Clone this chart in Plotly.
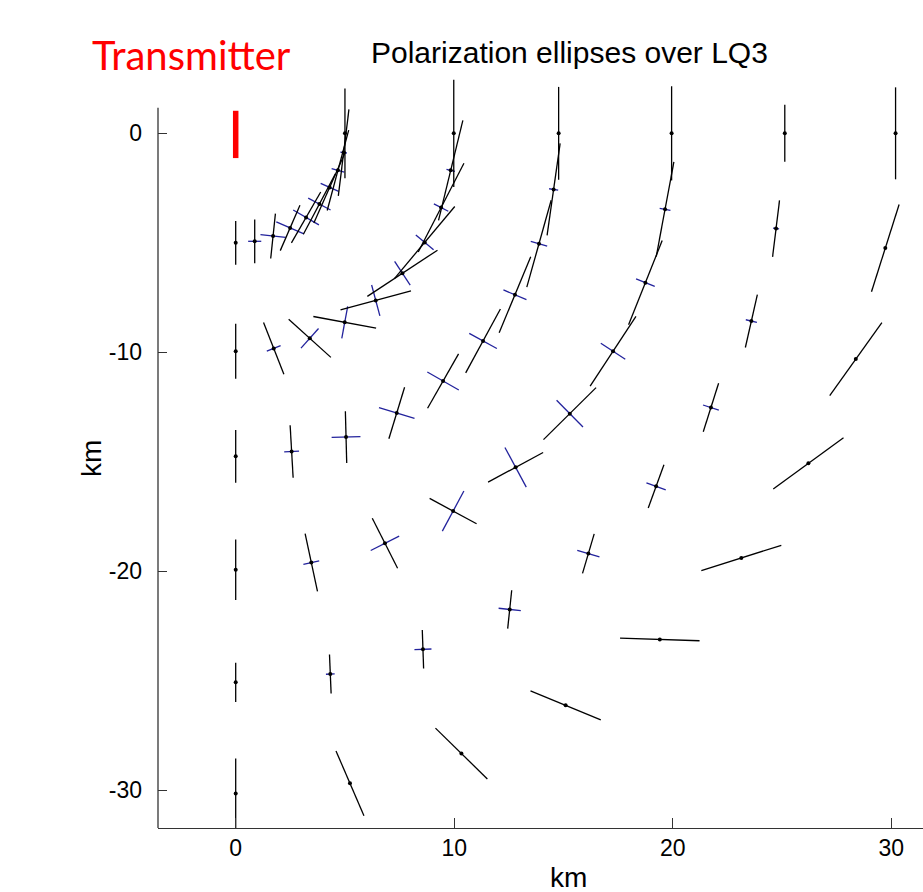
import math
import plotly.graph_objects as go

# ---------------- data (km / degrees) ----------------
# station centres, one list per ring (bearings 0..90 deg, step 10, from due south)
x_r5  = [0.00, 0.87, 1.71, 2.49, 3.22, 3.83, 4.30, 4.68, 4.94, 5.00]
y_r5  = [-5.00, -4.93, -4.69, -4.32, -3.84, -3.23, -2.47, -1.69, -0.88, 0.00]
x_r10 = [0.00, 1.74, 3.39, 4.99, 6.41, 7.63, 8.65, 9.40, 9.84, 9.98]
y_r10 = [-9.95, -9.82, -9.36, -8.63, -7.63, -6.39, -4.98, -3.39, -1.69, 0.00]
x_r15 = [0.00, 2.56, 5.05, 7.37, 9.49, 11.32, 12.78, 13.88, 14.55, 14.78]
y_r15 = [-14.75, -14.53, -13.87, -12.77, -11.31, -9.48, -7.37, -5.04, -2.56, 0.00]
x_r20 = [0.00, 3.46, 6.83, 9.95, 12.81, 15.29, 17.27, 18.75, 19.65, 19.95]
y_r20 = [-19.93, -19.60, -18.72, -17.25, -15.25, -12.80, -9.95, -6.82, -3.47, 0.00]
x_r25 = [0.00, 4.33, 8.57, 12.54, 16.14, 19.24, 21.75, 23.60, 24.73, 25.13]
y_r25 = [-25.07, -24.69, -23.56, -21.74, -19.19, -16.12, -12.52, -8.57, -4.35, 0.00]
x_r30 = [0.00, 5.23, 10.33, 15.10, 19.41, 23.14, 26.21, 28.38, 29.73, 30.20]
y_r30 = [-30.15, -29.68, -28.32, -26.12, -23.11, -19.39, -15.07, -10.31, -5.24, 0.00]

# ellipse major half-axis (km), major-axis orientation (deg from east), minor half-axis (km)
major_r5  = [1.00, 1.00, 1.03, 1.13, 1.34, 1.56, 1.78, 1.90, 1.99, 2.05]
angle_r5  = [90, 90, 84, 66.5, 60, 62, 66, 75, 83, 90]
minor_r5  = [0.00, 0.30, 0.58, 0.69, 0.68, 0.58, 0.45, 0.30, 0.15, 0.00]

major_r10 = [1.26, 1.27, 1.30, 1.46, 1.67, 1.92, 2.14, 2.28, 2.35, 2.45]
angle_r10 = [90, 111.5, 138, 169.5, 15, 33.3, 50, 62.7, 76.3, 90]
minor_r10 = [0.00, 0.34, 0.60, 0.74, 0.73, 0.65, 0.53, 0.37, 0.20, 0.00]

major_r15 = [1.20, 1.20, 1.18, 1.23, 1.43, 1.66, 1.88, 2.06, 2.12, 2.12]
angle_r15 = [90, 93.3, 91.5, 73, 60.3, 61.4, 67.4, 74.3, 81.9, 90]
minor_r15 = [0.00, 0.34, 0.66, 0.85, 0.83, 0.72, 0.57, 0.39, 0.21, 0.00]

major_r20 = [1.38, 1.35, 1.28, 1.22, 1.43, 1.69, 1.91, 2.07, 2.20, 2.15]
angle_r20 = [90, 102.1, 116.9, 151.7, 28.3, 44.6, 56.7, 68.2, 79.4, 90]
minor_r20 = [0.00, 0.37, 0.73, 1.04, 1.03, 0.86, 0.67, 0.46, 0.25, 0.00]

major_r25 = [0.90, 0.89, 0.88, 0.88, 0.94, 1.05, 1.16, 1.24, 1.30, 1.30]
angle_r25 = [90, 92.4, 92, 84, 73.5, 70, 72.4, 77.2, 83, 90]
minor_r25 = [0.00, 0.20, 0.39, 0.51, 0.53, 0.47, 0.38, 0.26, 0.14, 0.00]

major_r30 = [1.60, 1.61, 1.66, 1.74, 1.82, 1.92, 1.99, 2.05, 2.09, 2.10]
angle_r30 = [90, 113.4, 135.7, 157.6, 178.1, 17.6, 36.1, 54.4, 72.4, 90]
minor_r30 = [0.00, 0.00, 0.00, 0.00, 0.00, 0.00, 0.00, 0.00, 0.00, 0.00]

# transmitter (red bar) position, km
transmitter_x = [0.0, 0.0]
transmitter_y = [1.03, -1.13]

x_ticks = [0, 10, 20, 30]
x_ticktext = ["0", "10", "20", "30"]
y_ticks = [0, -10, -20, -30]
y_ticktext = ["0", "-10", "-20", "-30"]

title_text = "Polarization ellipses over LQ3"
transmitter_label = "Transmitter"
axis_label = "km"

# ---------------- assemble ----------------
xs = x_r5 + x_r10 + x_r15 + x_r20 + x_r25 + x_r30
ys = y_r5 + y_r10 + y_r15 + y_r20 + y_r25 + y_r30
majors = major_r5 + major_r10 + major_r15 + major_r20 + major_r25 + major_r30
angles = angle_r5 + angle_r10 + angle_r15 + angle_r20 + angle_r25 + angle_r30
minors = minor_r5 + minor_r10 + minor_r15 + minor_r20 + minor_r25 + minor_r30

maj_x, maj_y, min_x, min_y = [], [], [], []
for x, y, a, ang, b in zip(xs, ys, majors, angles, minors):
    t = math.radians(ang)
    c, s = math.cos(t), math.sin(t)
    maj_x += [x - a * c, x + a * c, None]
    maj_y += [y - a * s, y + a * s, None]
    if b > 0:
        min_x += [x + b * s, x - b * s, None]
        min_y += [y - b * c, y + b * c, None]

W, H = 923, 892
ML, MR, MT, MB = 158, 0, 75, 64
PX_PER_KM_X = 21.85
PX_PER_KM_Y = 21.9
x_min = -3.556
x_max = x_min + (W - ML - MR) / PX_PER_KM_X
y_min = -31.72
y_max = y_min + (H - MT - MB) / PX_PER_KM_Y
y_axis_top = 1.17

fig = go.Figure()
fig.add_trace(go.Scatter(x=min_x, y=min_y, mode="lines",
                         line=dict(color="#22229c", width=1.3),
                         hoverinfo="skip", showlegend=False))
fig.add_trace(go.Scatter(x=maj_x, y=maj_y, mode="lines",
                         line=dict(color="#000000", width=1.3),
                         hoverinfo="skip", showlegend=False))
fig.add_trace(go.Scatter(x=xs, y=ys, mode="markers",
                         marker=dict(color="#000000", size=4),
                         showlegend=False))
fig.add_trace(go.Scatter(x=transmitter_x, y=transmitter_y, mode="lines",
                         line=dict(color="#ff0000", width=5.5),
                         hoverinfo="skip", showlegend=False))

axis_color = "#333333"
tick_font = dict(family="Liberation Sans, Arial, sans-serif", size=23, color="#000000")

fig.update_xaxes(range=[x_min, x_max], showgrid=False, zeroline=False,
                 showline=True, linecolor=axis_color, linewidth=1.3,
                 ticks="inside", ticklen=10, tickwidth=1.3, tickcolor=axis_color,
                 tickvals=x_ticks, ticktext=x_ticktext, tickfont=tick_font,
                 ticklabelstandoff=-1)
fig.update_yaxes(range=[y_min, y_max], showgrid=False, zeroline=False,
                 showline=False,
                 ticks="inside", ticklen=9, tickwidth=1.3, tickcolor=axis_color,
                 tickvals=y_ticks, ticktext=y_ticktext, tickfont=tick_font,
                 ticklabelstandoff=15)

# y axis line only up to just above 0 (as in the reference)
fig.add_shape(type="line", xref="paper", yref="y", x0=0, x1=0,
              y0=y_min, y1=y_axis_top, line=dict(color=axis_color, width=1.3))

plot_w = W - ML - MR
plot_h = H - MT - MB


def px_to_paper_x(px):
    return (px - ML) / plot_w


def px_to_paper_y(py):
    return (H - MB - py) / plot_h


fig.add_annotation(text=title_text, xref="paper", yref="paper",
                   x=px_to_paper_x(569), y=px_to_paper_y(52),
                   xanchor="center", yanchor="middle", showarrow=False,
                   font=dict(family="Liberation Sans, Arial, sans-serif", size=30, color="#000000"))
fig.add_annotation(text=transmitter_label, xref="paper", yref="paper",
                   x=px_to_paper_x(191), y=px_to_paper_y(55),
                   xanchor="center", yanchor="middle", showarrow=False,
                   font=dict(family="Lato, Open Sans, sans-serif", size=40, color="#ff0000"))
fig.add_annotation(text=axis_label, xref="paper", yref="paper",
                   x=px_to_paper_x(568), y=px_to_paper_y(877),
                   xanchor="center", yanchor="middle", showarrow=False,
                   font=dict(family="Liberation Sans, Arial, sans-serif", size=28, color="#000000"))
fig.add_annotation(text=axis_label, xref="paper", yref="paper",
                   x=px_to_paper_x(91), y=px_to_paper_y(459), textangle=-90,
                   xanchor="center", yanchor="middle", showarrow=False,
                   font=dict(family="Liberation Sans, Arial, sans-serif", size=28, color="#000000"))

fig.update_layout(width=W, height=H,
                  margin=dict(l=ML, r=MR, t=MT, b=MB, pad=0),
                  paper_bgcolor="#ffffff", plot_bgcolor="#ffffff",
                  showlegend=False)

fig.write_html("out.html")
